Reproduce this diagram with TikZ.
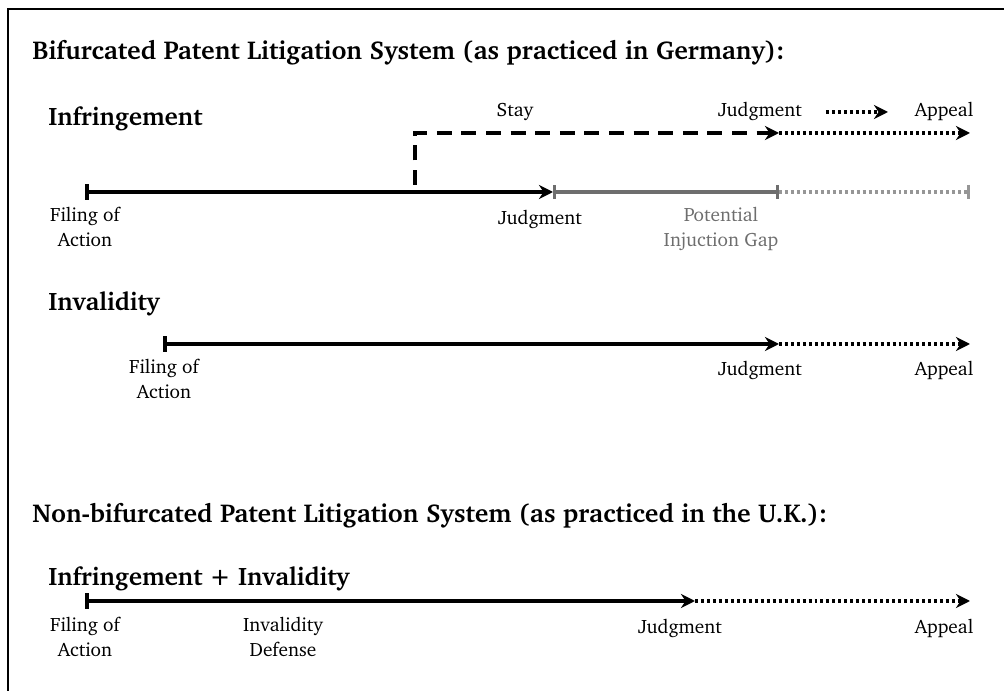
\documentclass[tikz,border=0pt]{standalone}
\usepackage[T1]{fontenc}
\usepackage{charter}
\usepackage{xcolor}
\usepackage{tikz}
\usetikzlibrary{arrows.meta}
\usetikzlibrary{positioning}

\definecolor{gapgray}{RGB}{110,110,110}
\definecolor{gapdot}{RGB}{150,150,150}

\tikzset{
  heading/.style={anchor=west, inner sep=0pt, font=\fontsize{14.7}{17}\selectfont\bfseries},
  track/.style={anchor=west, inner sep=0pt, font=\Large\bfseries},
  event/.style={anchor=north, inner sep=0pt, align=center, font=\fontsize{11}{14}\selectfont},
  tag/.style={anchor=base, inner sep=0pt, font=\fontsize{11}{14}\selectfont},
  phase/.style={line width=2.8pt, black, {Bar[width=9pt,line width=2pt]}-{Stealth[length=8pt,width=8pt]}},
  stayline/.style={line width=2.1pt, black, dash pattern=on 8.5pt off 5.5pt, -{Stealth[length=8pt,width=8pt]}},
  appealline/.style={line width=1.9pt, black, dash pattern=on 1.7pt off 1.7pt, -{Stealth[length=8pt,width=8pt]}},
  gapline/.style={line width=2pt, gapgray, {Bar[width=8pt,line width=1.6pt]}-{Bar[width=8pt,line width=1.6pt]}},
  gapdotted/.style={line width=1.9pt, gapdot, dash pattern=on 1.7pt off 1.7pt, -{Bar[width=8pt,line width=1.6pt]}},
}

\begin{document}
\begin{tikzpicture}

\useasboundingbox (0,0) rectangle (20.08,13.82);
\draw[black, line width=1.2pt] (0.16,-1) rectangle (21,13.64);

%% bifurcated system
\node at (0.64,12.78) [heading] (title1) {Bifurcated Patent Litigation System (as practiced in Germany):};

% infringement track
\node at (0.96,11.44) [track] (infr) {Infringement};
\coordinate (ifile) at (1.7,9.98);
\coordinate (ijudg) at (11.06,9.98);
\coordinate (igap) at (15.58,9.98);
\coordinate (igapend) at (19.4,9.98);
\coordinate (stayup) at (8.3,10.12);
\coordinate (staycorner) at (8.3,11.16);
\coordinate (sjudg) at (15.58,11.16);
\coordinate (sappeal) at (19.4,11.16);

\draw[phase] (ifile) -- (ijudg);
\draw[gapline] (ijudg) -- (igap);
\draw[gapdotted] (igap) -- (igapend);
\draw[stayline] (stayup) -- (staycorner) -- (sjudg);
\draw[appealline] (sjudg) -- (sappeal);

\node at (10.3,11.48) [tag] (stay) {Stay};
\node at (15.2,11.48) [tag] (stayjudg) {Judgment};
\node at (18.88,11.48) [tag] (stayappeal) {Appeal};
\coordinate (keyfrom) at (16.52,11.58);
\coordinate (keyto) at (17.76,11.58);
\draw[appealline] (keyfrom) -- (keyto);

\node at (1.7,9.68) [event] (ifilelbl) {Filing of\\Action};
\node at (10.8,9.62) [event] (ijudglbl) {Judgment};
\node at (14.42,9.68) [event, text=gapgray] (igaplbl) {Potential\\Injuction Gap};

% invalidity track
\node at (0.96,7.74) [track] (inval) {Invalidity};
\coordinate (vfile) at (3.26,6.94);
\coordinate (vjudg) at (15.58,6.94);
\coordinate (vappeal) at (19.4,6.94);
\draw[phase] (vfile) -- (vjudg);
\draw[appealline] (vjudg) -- (vappeal);

\node at (3.28,6.64) [event] (vfilelbl) {Filing of\\Action};
\node at (15.2,6.6) [event] (vjudglbl) {Judgment};
\node at (18.88,6.6) [event] (vappeallbl) {Appeal};

%% non-bifurcated system
\node at (0.64,3.52) [heading] (title2) {Non-bifurcated Patent Litigation System (as practiced in the U.K.):};

\node at (0.96,2.24) [track] (both) {Infringement + Invalidity};
\coordinate (bfile) at (1.7,1.8);
\coordinate (bjudg) at (13.9,1.8);
\coordinate (bappeal) at (19.4,1.8);
\draw[phase] (bfile) -- (bjudg);
\draw[appealline] (bjudg) -- (bappeal);

\node at (1.7,1.48) [event] (bfilelbl) {Filing of\\Action};
\node at (5.66,1.48) [event] (bdeflbl) {Invalidity\\Defense};
\node at (13.6,1.44) [event] (bjudglbl) {Judgment};
\node at (18.88,1.44) [event] (bappeallbl) {Appeal};

\end{tikzpicture}
\end{document}
